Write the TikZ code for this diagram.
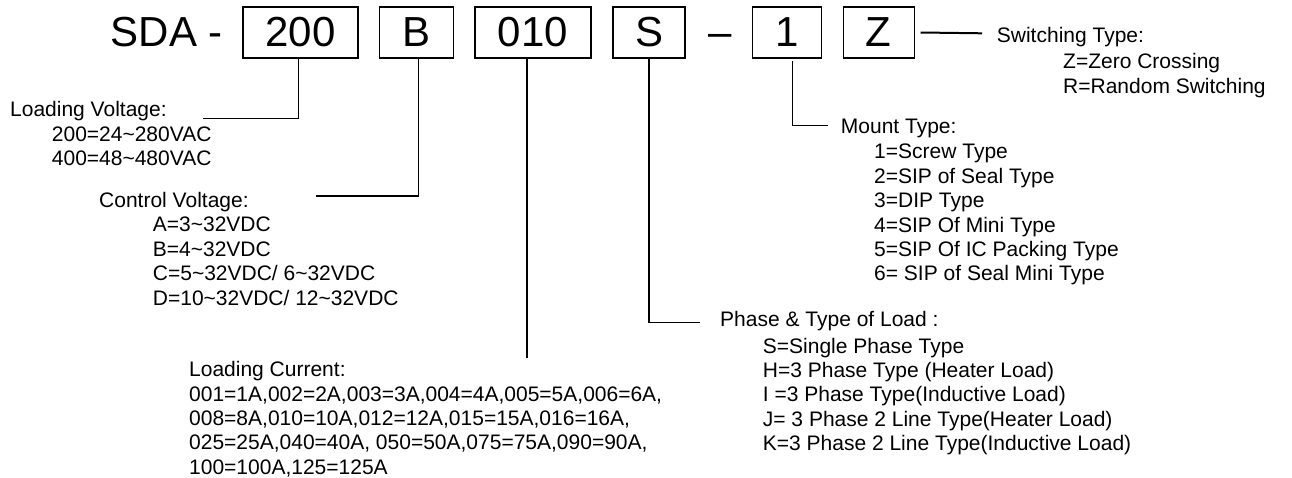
\documentclass[tikz,border=0pt]{standalone}
\usepackage{fontspec}
\setmainfont{Liberation Sans}
\newcommand{\til}{\textasciitilde}

\begin{document}
\begin{tikzpicture}[
  x=1pt, y=-1pt,
  every node/.style={inner sep=0pt},
  codeBox/.style={draw, line width=1.4pt, minimum height=51pt, font=\fontsize{42}{48}\selectfont},
  bigText/.style={anchor=base west, font=\fontsize{42}{48}\selectfont},
  legend/.style={anchor=base west, align=left, font=\fontsize{21}{24.4}\selectfont},
  lead/.style={line width=1.2pt},
  heavyLead/.style={line width=2pt}]

\useasboundingbox (0,0) rectangle (1292,477);

% The part number, one box per field
\node[bigText] (prefix) at (110.7,46.7) {SDA -};
\node[codeBox, minimum width=115pt] (loadVolt) at (300.5,32.5) {200};
\node[codeBox, minimum width=74pt] (ctrlVolt) at (416.3,32.5) {B};
\node[codeBox, minimum width=116pt] (loadCurr) at (533,32.5) {010};
\node[codeBox, minimum width=72pt] (phase) at (649,32.5) {S};
\node[bigText] (dash) at (708,46.7) {–};
\node[codeBox, minimum width=69pt] (mount) at (786.7,32.5) {1};
\node[codeBox, minimum width=71pt] (switching) at (878.8,32.5) {Z};

% The legends for each field (placed by the baseline of their last line)
\node[legend] (loadingVoltage) at (10,165.5) {Loading Voltage:\\
  \hspace*{41.7pt}200=24\til280VAC\\
  \hspace*{41.7pt}400=48\til480VAC};
\node[legend] (controlVoltage) at (99,305) {Control Voltage:\\
  \hspace*{53.7pt}A=3\til32VDC\\
  \hspace*{53.7pt}B=4\til32VDC\\
  \hspace*{53.7pt}C=5\til32VDC/ 6\til32VDC\\
  \hspace*{53.7pt}D=10\til32VDC/ 12\til32VDC};
\node[legend] (loadingCurrent) at (189,474.3) {Loading Current:\\
  001=1A,002=2A,003=3A,004=4A,005=5A,006=6A,\\
  008=8A,010=10A,012=12A,015=15A,016=16A,\\
  025=25A,040=40A, 050=50A,075=75A,090=90A,\\
  100=100A,125=125A};
\node[legend] (phaseType) at (720,450.7) {Phase \& Type of Load :\\[2.6pt]
  \hspace*{42.7pt}S=Single Phase Type\\
  \hspace*{42.7pt}H=3 Phase Type (Heater Load)\\
  \hspace*{42.7pt}I =3 Phase Type(Inductive Load)\\
  \hspace*{42.7pt}J= 3 Phase 2 Line Type(Heater Load)\\
  \hspace*{42.7pt}K=3 Phase 2 Line Type(Inductive Load)};
\node[legend] (mountType) at (840.7,280.8) {Mount Type:\\[0.6pt]
  \hspace*{33.3pt}1=Screw Type\\
  \hspace*{33.3pt}2=SIP of Seal Type\\
  \hspace*{33.3pt}3=DIP Type\\
  \hspace*{33.3pt}4=SIP Of Mini Type\\
  \hspace*{33.3pt}5=SIP Of IC Packing Type\\
  \hspace*{33.3pt}6= SIP of Seal Mini Type};
\node[legend] (switchingType) at (996.7,93) {Switching Type:\\[1.6pt]
  \hspace*{66.3pt}Z=Zero Crossing\\
  \hspace*{66.3pt}R=Random Switching};

% Leader lines from the boxes to the legends
\coordinate (lvBend) at (298.3,118.3);
\coordinate (lvEnd) at (202.7,118.3);
\coordinate (cvBend) at (418.3,196);
\coordinate (cvEnd) at (316,196);
\coordinate (lcEnd) at (526.7,358);
\coordinate (phEnd) at (700,322.3);
\coordinate (mtBend) at (792.7,125.7);
\coordinate (mtEnd) at (828,125.7);
\coordinate (swEnd) at (982,33.3);

\draw[lead] (loadVolt.south -| lvBend) -- (lvBend) -- (lvEnd);
\draw[lead] (ctrlVolt.south -| cvBend) -- (cvBend) -- (cvEnd);
\draw[heavyLead] (loadCurr.south -| lcEnd) -- (lcEnd);
\draw[lead] (phase.south) |- (phEnd);
\draw[lead] ([yshift=-2.5pt]mount.south -| mtBend) -- (mtBend) -- (mtEnd);
\draw[heavyLead] ([xshift=5.5pt]switching.east) -- (swEnd);
\end{tikzpicture}
\end{document}
